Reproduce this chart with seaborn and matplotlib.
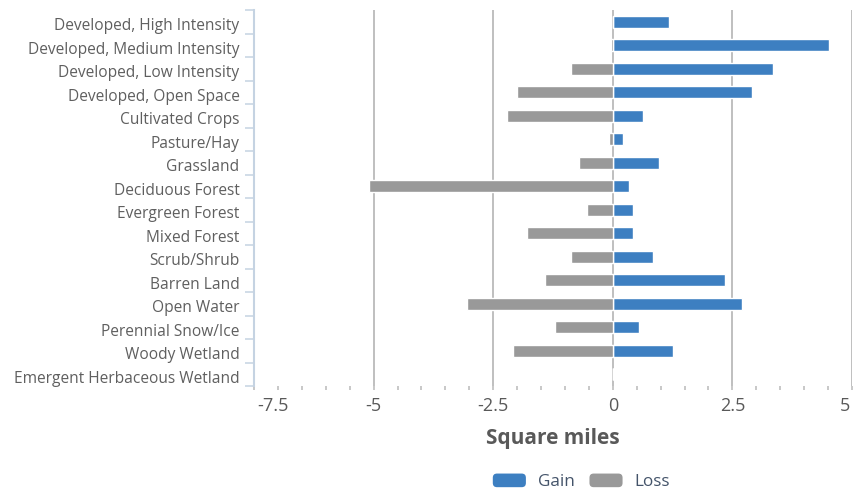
import matplotlib
matplotlib.use("Agg")
import matplotlib.pyplot as plt
import matplotlib.transforms as mtransforms
import seaborn as sns
import pandas as pd
import numpy as np
from matplotlib.ticker import MultipleLocator
from matplotlib.patches import FancyBboxPatch
from matplotlib.legend_handler import HandlerPatch

categories = ["Developed, High Intensity", "Developed, Medium Intensity", "Developed, Low Intensity",
              "Developed, Open Space", "Cultivated Crops", "Pasture/Hay", "Grassland",
              "Deciduous Forest", "Evergreen Forest", "Mixed Forest", "Scrub/Shrub",
              "Barren Land", "Open Water", "Perennial Snow/Ice", "Woody Wetland",
              "Emergent Herbaceous Wetland"]
gain = [1.17, 4.51, 3.34, 2.92, 0.63, 0.21, 0.97, 0.34, 0.42, 0.42, 0.83, 2.34, 2.71, 0.54, 1.25, 0.0]
loss = [0.0, -0.04, -0.87, -2.0, -2.21, -0.08, -0.71, -5.09, -0.54, -1.79, -0.87, -1.42, -3.04, -1.2, -2.09, 0.0]
series_names = ["Gain", "Loss"]
x_ticks = [-7.5, -5, -2.5, 0, 2.5, 5]
x_tick_labels = ["-7.5", "-5", "-2.5", "0", "2.5", "5"]

df = pd.DataFrame({
    "category": categories * 2,
    "value": gain + loss,
    "series": [series_names[0]] * len(categories) + [series_names[1]] * len(categories),
})

sns.set_theme(style="white")
plt.rcParams['font.family'] = ['Open Sans', 'DejaVu Sans']

fig = plt.figure(figsize=(8.62, 4.93), dpi=100)
ax = fig.add_axes([254 / 862, 1 - 386 / 493, 598 / 862, 376 / 493])

palette = {"Gain": "#3d7fc1", "Loss": "#999999"}
sns.barplot(data=df, x="value", y="category", hue="series", order=categories,
            hue_order=series_names, palette=palette, dodge=False, orient="h",
            width=0.5, saturation=1, ax=ax, legend=True, zorder=3)

ax.set_xlim(-7.5, 5)
ax.set_ylim(len(categories) - 0.5, -0.5)
ax.set_xticks(x_ticks)
ax.set_xticklabels(x_tick_labels)
ax.xaxis.set_minor_locator(MultipleLocator(0.5))
ax.grid(axis="x", color="#bfbfbf", linewidth=1.4, zorder=0)
ax.set_axisbelow(True)

for s in ["top", "right", "bottom"]:
    ax.spines[s].set_visible(False)
ax.spines["left"].set_color("#c5d3e2")
ax.spines["left"].set_linewidth(1.5)

ax.tick_params(axis="x", which="both", bottom=True, length=3, width=1.2, color="#bfbfbf",
               direction="out")
ax.tick_params(axis="x", which="major", labelsize=13, labelcolor="#595959", pad=5)
ax.set_yticks(np.arange(len(categories)))
ax.set_yticklabels(categories)
ax.set_yticks(np.arange(-0.5, len(categories), 1.0), minor=True)
ax.tick_params(axis="y", which="major", left=True, length=0, labelsize=11.2,
               labelcolor="#5f5f5f", pad=10.5)
ax.tick_params(axis="y", which="minor", left=True, length=6.5, width=1.1,
               color="#c5d3e2", direction="out")

# shift category labels slightly down
down = mtransforms.ScaledTranslation(0, -2.5 / 100, fig.dpi_scale_trans)
for lbl in ax.get_yticklabels():
    lbl.set_transform(lbl.get_transform() + down)

# keep end labels inside the plot width
xlabels = ax.get_xticklabels()
xlabels[0].set_horizontalalignment("left")
xlabels[0].set_transform(xlabels[0].get_transform() +
                         mtransforms.ScaledTranslation(3 / 100, 0, fig.dpi_scale_trans))
xlabels[-1].set_horizontalalignment("right")
xlabels[-1].set_transform(xlabels[-1].get_transform() +
                          mtransforms.ScaledTranslation(-2 / 100, 0, fig.dpi_scale_trans))

ax.set_ylabel("")
ax.set_xlabel("Square miles", fontsize=15, fontweight="bold", color="#595959", labelpad=9)


class RoundHandler(HandlerPatch):
    def create_artists(self, legend, orig_handle, xdescent, ydescent, width, height,
                       fontsize, trans):
        p = FancyBboxPatch((-xdescent + 1, -ydescent + 1), width - 2, height - 2,
                           boxstyle="round,pad=0,rounding_size=3",
                           facecolor=orig_handle.get_facecolor(), edgecolor="none",
                           transform=trans)
        return [p]


handles, labels = ax.get_legend_handles_labels()
ax.get_legend().remove()
leg = fig.legend(handles, labels, loc="center", bbox_to_anchor=(0.6735, 0.024), ncol=2,
                 frameon=False, fontsize=12.3, handlelength=2.1, handleheight=1.1,
                 columnspacing=0.8, handletextpad=0.6,
                 handler_map={h: RoundHandler() for h in handles})
for t in leg.get_texts():
    t.set_color("#44546a")

fig.savefig("out.png", dpi=100)
